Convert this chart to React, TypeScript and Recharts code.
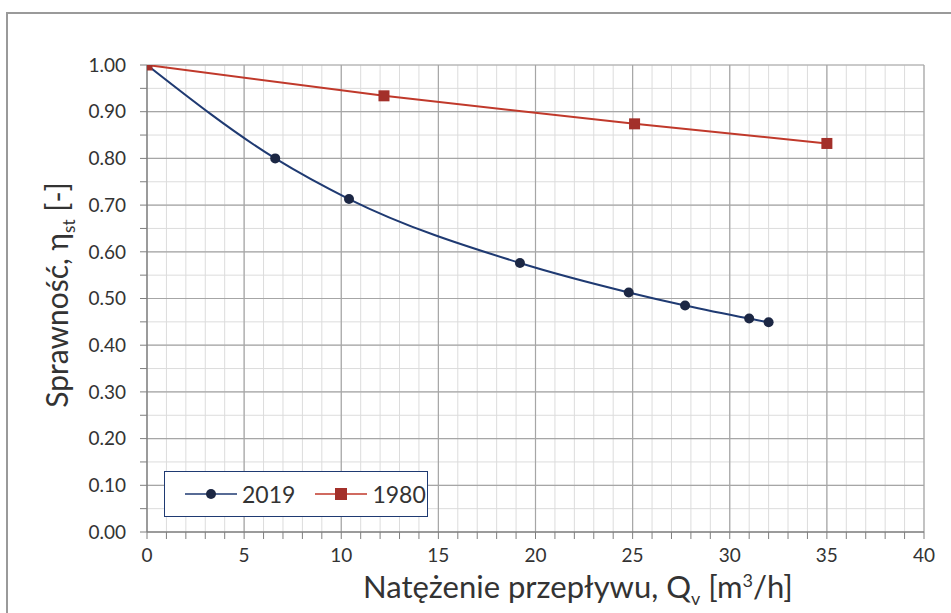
import { LineChart, Line, XAxis, YAxis, CartesianGrid, ReferenceLine } from 'recharts';

const flow2019 = [0, 6.6, 10.4, 19.2, 24.8, 27.7, 31.0, 32.0];
const eff2019 = [1.0, 0.8, 0.713, 0.576, 0.513, 0.485, 0.457, 0.449];
const flow1980 = [0, 12.2, 25.1, 35.0];
const eff1980 = [1.0, 0.934, 0.874, 0.832];

const xTicks = Array.from({ length: 41 }, (_, i) => i);
const yTicks = Array.from({ length: 21 }, (_, i) => Math.round(i * 5) / 100);
const xMajor = [5, 10, 15, 20, 25, 30, 35, 40];
const yMajor = [0.1, 0.2, 0.3, 0.4, 0.5, 0.6, 0.7, 0.8, 0.9, 1.0];

const data2019 = flow2019.map((x, i) => ({ x, y: eff2019[i] }));
const data1980 = flow1980.map((x, i) => ({ x, y: eff1980[i] }));

const FONT = 'Lato, "Open Sans", sans-serif';
const BLUE = '#1f3a72';
const RED = '#c0392b';

const Square = (props: any) => {
  const { cx, cy } = props;
  if (cx == null || cy == null) return null;
  return <rect x={cx - 5.5} y={cy - 5.5} width={11} height={11} fill="#a3302a" />;
};

const LegendBox = () => (
  <div
    style={{
      position: 'absolute',
      left: 164,
      top: 471,
      border: `1.5px solid ${BLUE}`,
      background: '#fff',
      width: 264,
      height: 46,
      boxSizing: 'border-box',
      display: 'flex',
      alignItems: 'center',
      fontFamily: FONT,
      fontSize: 23,
      color: '#333',
    }}
  >
    <svg width={54} height={20} style={{ marginLeft: 20 }}>
      <line x1={0} y1={10} x2={52} y2={10} stroke={BLUE} strokeWidth={1.5} />
      <circle cx={26} cy={10} r={5} fill="#1c2744" />
    </svg>
    <span style={{ marginLeft: 3 }}>2019</span>
    <svg width={54} height={20} style={{ marginLeft: 20 }}>
      <line x1={0} y1={10} x2={52} y2={10} stroke={RED} strokeWidth={1.5} />
      <rect x={20} y={4} width={12} height={12} fill="#a3302a" />
    </svg>
    <span style={{ marginLeft: 3 }}>1980</span>
  </div>
);

export default function App() {
  return (
    <div style={{ position: 'absolute', left: 0, top: 0, width: 951, height: 613, overflow: 'hidden', background: '#fff' }}>
      <div style={{ position: 'absolute', left: 6, top: 12, width: 1000, height: 700, borderLeft: '2px solid #9a9a9a', borderTop: '2px solid #9a9a9a' }} />
      <div style={{ position: 'absolute', left: 0, top: 0 }}>
        <LineChart width={951} height={613} margin={{ top: 65, right: 27, left: 67, bottom: 51 }}>
          <CartesianGrid stroke="#dcdcdc" strokeWidth={1} />
          {xMajor.map((v) => (
            <ReferenceLine key={'x' + v} x={v} stroke="#a6a6a6" strokeWidth={1.2} />
          ))}
          {yMajor.map((v) => (
            <ReferenceLine key={'y' + v} y={v} stroke="#a6a6a6" strokeWidth={1.2} />
          ))}
          <XAxis
            type="number"
            dataKey="x"
            domain={[0, 40]}
            ticks={xTicks}
            interval={0}
            height={30}
            tickFormatter={(v: number) => (v % 5 === 0 ? String(v) : '')}
            tick={{ fill: '#333', fontSize: 19, fontFamily: FONT }}
            tickSize={7}
            tickMargin={10}
            stroke="#7f7f7f"
            axisLine={{ stroke: '#7f7f7f', strokeWidth: 1.5 }}
            allowDataOverflow
          />
          <YAxis
            type="number"
            dataKey="y"
            domain={[0, 1]}
            ticks={yTicks}
            interval={0}
            width={80}
            tickFormatter={(v: number) => (Math.round(v * 100) % 10 === 0 ? v.toFixed(2) : '')}
            tick={{ fill: '#333', fontSize: 19, fontFamily: FONT }}
            tickSize={7}
            tickMargin={14}
            stroke="#7f7f7f"
            axisLine={{ stroke: '#7f7f7f', strokeWidth: 1.5 }}
            allowDataOverflow
          />
          <Line
            data={data2019}
            dataKey="y"
            name="2019"
            type="monotone"
            stroke={BLUE}
            strokeWidth={2}
            dot={{ r: 5, fill: '#1c2744', stroke: '#1c2744', strokeWidth: 0 }}
            activeDot={false}
            isAnimationActive={false}
          />
          <Line
            data={data1980}
            dataKey="y"
            name="1980"
            type="linear"
            stroke={RED}
            strokeWidth={2}
            dot={<Square />}
            activeDot={false}
            isAnimationActive={false}
          />
        </LineChart>
      </div>
      <LegendBox />
      <div
        style={{
          position: 'absolute',
          left: 363,
          top: 570,
          lineHeight: '32px',
          fontFamily: FONT,
          fontSize: 31,
          color: '#333',
          whiteSpace: 'nowrap',
        }}
      >
        Natężenie przepływu, Q<sub style={{ fontSize: 18, lineHeight: 0 }}>v</sub> [m
        <sup style={{ fontSize: 18, lineHeight: 0 }}>3</sup>/h]
      </div>
      <div
        style={{
          position: 'absolute',
          left: 56,
          top: 295,
          lineHeight: '32px',
          transform: 'translate(-50%, -50%) rotate(-90deg)',
          fontFamily: FONT,
          fontSize: 30,
          color: '#333',
          whiteSpace: 'nowrap',
        }}
      >
        Sprawność, η<sub style={{ fontSize: 17, lineHeight: 0 }}>st</sub> [-]
      </div>
    </div>
  );
}
